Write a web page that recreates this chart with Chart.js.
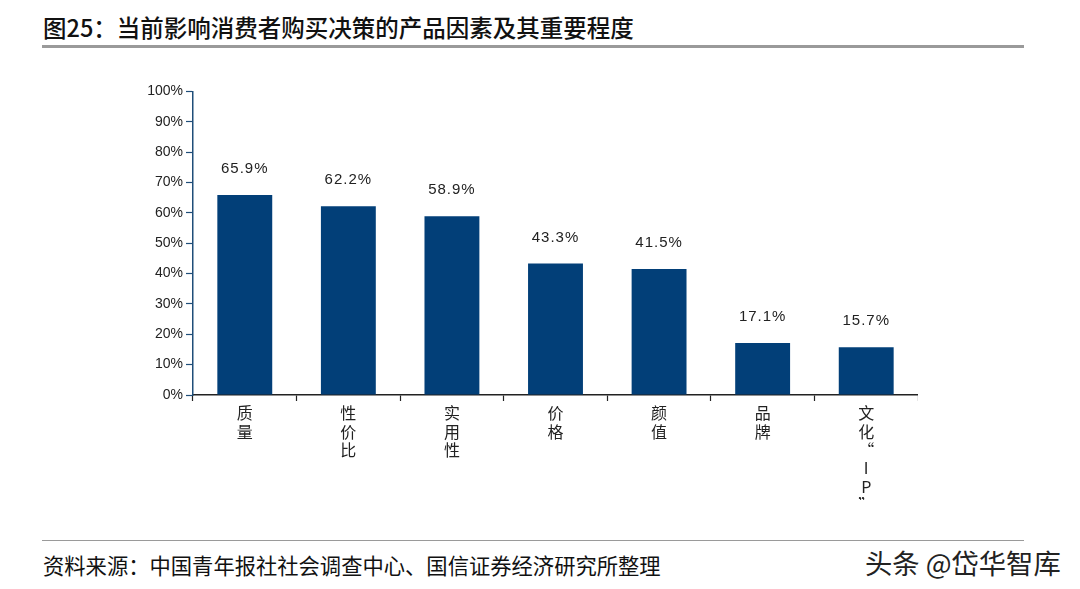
<!DOCTYPE html>
<html><head><meta charset="utf-8">
<script src="https://cdn.jsdelivr.net/npm/chart.js@4"></script>
<style>
html,body{margin:0;padding:0;background:#fff;width:1080px;height:589px;overflow:hidden;font-family:"Noto Sans CJK SC",sans-serif;}
#title{position:absolute;left:43px;top:10px;font-size:23.5px;font-weight:500;color:#111;}
#tline{position:absolute;left:42px;top:45px;width:982px;height:3px;background:#9a9a9a;}
#bline{position:absolute;left:42px;top:540px;width:982px;height:1px;background:#9a9a9a;}
#src{position:absolute;left:43px;top:549px;font-size:21.3px;color:#111;}
#wm{position:absolute;left:865px;top:542px;font-size:27.3px;color:#222;}
#wrap{position:absolute;left:132px;top:80px;width:786px;height:420px;}
</style></head>
<body>
<div id="title">图25：当前影响消费者购买决策的产品因素及其重要程度</div>
<div id="tline"></div>
<div id="wrap"><canvas id="c"></canvas></div>
<div id="bline"></div>
<div id="src">资料来源：中国青年报社社会调查中心、国信证券经济研究所整理</div>
<div id="wm">头条 @岱华智库</div>
<script>
const categories = ['质量','性价比','实用性','价格','颜值','品牌','文化“IP”'];
const values = [65.9, 62.2, 58.9, 43.3, 41.5, 17.1, 15.7];
const yTicks = [0,10,20,30,40,50,60,70,80,90,100];

const labelLines = categories.map(s => Array.from(s));

const valueLabels = {
  id:'valueLabels',
  afterDatasetsDraw(chart){
    const ctx = chart.ctx;
    const meta = chart.getDatasetMeta(0);
    ctx.save();
    ctx.font = '15px "Liberation Sans", Arial, sans-serif';
    ctx.fillStyle = '#222';
    ctx.textAlign = 'center';
    ctx.textBaseline = 'middle';
    try{ ctx.letterSpacing = '1px'; }catch(e){}
    meta.data.forEach((bar,i)=>{
      ctx.fillText(values[i].toFixed(1)+'%', bar.x, bar.y - 26);
    });
    ctx.restore();
  }
};

new Chart(document.getElementById('c'), {
  type:'bar',
  data:{
    labels: labelLines,
    datasets:[{data: values, backgroundColor:'#023f78', borderWidth:0, barPercentage:0.53, categoryPercentage:1.0}]
  },
  options:{
    responsive:true, maintainAspectRatio:false, animation:false,
    layout:{padding:{top:11,right:0,left:0,bottom:0}},
    plugins:{legend:{display:false}, tooltip:{enabled:false}},
    scales:{
      x:{
        offset:true,
        grid:{offset:true, drawOnChartArea:false, drawTicks:true, tickLength:6, color:'#222', tickWidth:1.2},
        border:{color:'#222', width:1.5},
        ticks:{color:'#222', font:{family:'"Noto Sans CJK SC", sans-serif', size:16, lineHeight:1.15}, maxRotation:0, minRotation:0, padding:3, autoSkip:false},
        afterFit(scale){ scale.height = 105; }
      },
      y:{
        min:0, max:100,
        afterBuildTicks(scale){ scale.ticks = yTicks.map(v=>({value:v})); },
        grid:{drawOnChartArea:false, drawTicks:true, tickLength:7, color:'#1f4e79', tickWidth:1.2},
        border:{color:'#1f4e79', width:1.5},
        ticks:{color:'#222', font:{family:'"Liberation Sans", Arial, sans-serif', size:14}, padding:3, callback:v=>v+'%'},
        afterFit(scale){ scale.width = 61; }
      }
    }
  },
  plugins:[valueLabels]
});
</script>
</body></html>
